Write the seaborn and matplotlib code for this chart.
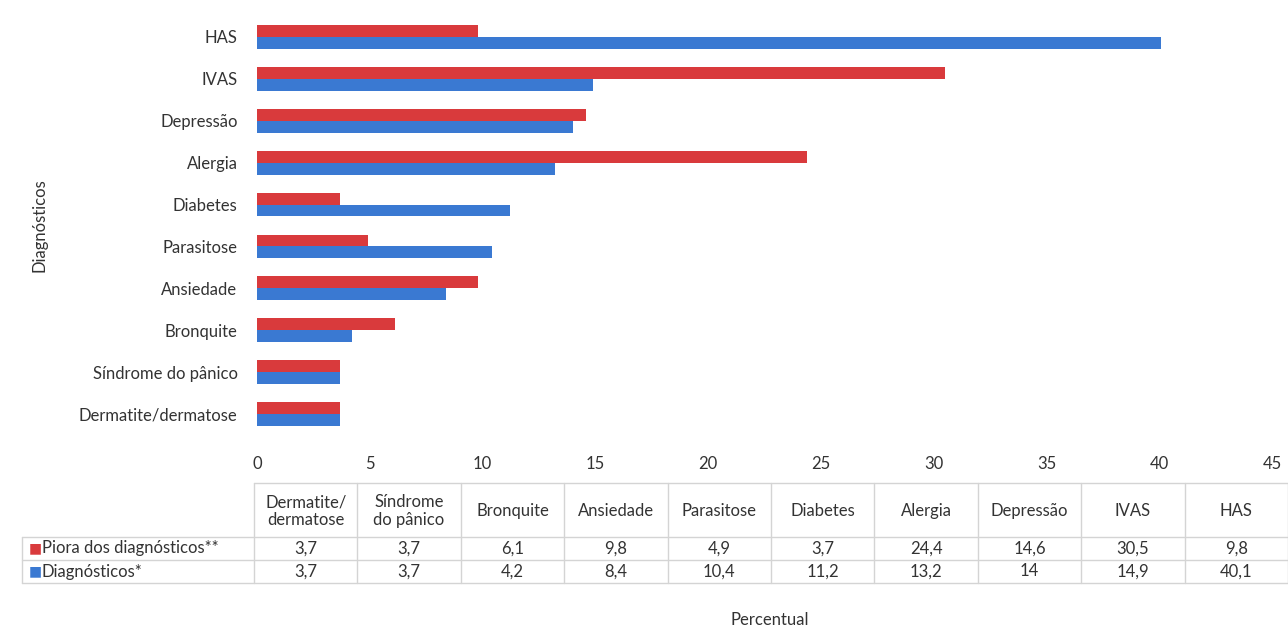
import matplotlib
matplotlib.use("Agg")
import matplotlib.pyplot as plt
import seaborn as sns
import pandas as pd

# data, top-to-bottom in chart order
categorias = ["HAS", "IVAS", "Depressão", "Alergia", "Diabetes", "Parasitose",
              "Ansiedade", "Bronquite", "Síndrome do pânico", "Dermatite/dermatose"]
piora = [9.8, 30.5, 14.6, 24.4, 3.7, 4.9, 9.8, 6.1, 3.7, 3.7]
diagnosticos = [40.1, 14.9, 14.0, 13.2, 11.2, 10.4, 8.4, 4.2, 3.7, 3.7]
serie_piora = "Piora dos diagnósticos**"
serie_diag = "Diagnósticos*"

# data table columns (left to right) and header text
tabela_cols = ["Dermatite/\ndermatose", "Síndrome\ndo pânico", "Bronquite", "Ansiedade",
               "Parasitose", "Diabetes", "Alergia", "Depressão", "IVAS", "HAS"]
x_ticks = [0, 5, 10, 15, 20, 25, 30, 35, 40, 45]

RED = "#d93a3c"
BLUE = "#3a79d2"
TXT = "#333333"
GRID = "#d4d4d4"
FS = 12

sns.set_theme(style="white")
plt.rcParams["font.family"] = ["Lato", "DejaVu Sans"]

df = pd.DataFrame({
    "Diagnóstico": categorias * 2,
    "Percentual": piora + diagnosticos,
    "Série": [serie_piora] * len(categorias) + [serie_diag] * len(categorias),
})

W, H = 1288, 633
fig = plt.figure(figsize=(W / 100, H / 100), dpi=100)
ax = fig.add_axes([257 / W, 1 - 435 / H, (1272 - 257) / W, (435 - 16) / H])

sns.barplot(data=df, y="Diagnóstico", x="Percentual", hue="Série",
            order=categorias, hue_order=[serie_piora, serie_diag],
            palette=[RED, BLUE], width=0.57, gap=0, orient="h",
            saturation=1, linewidth=0, ax=ax, legend=False)

ax.set_xlim(0, 45)
ax.set_xticks(x_ticks)
ax.set_xticklabels([str(t) for t in x_ticks])
ax.tick_params(axis="x", length=0, pad=15, labelsize=FS, colors=TXT)
ax.tick_params(axis="y", length=0, pad=14, labelsize=FS, colors=TXT)
for s in ax.spines.values():
    s.set_visible(False)
ax.set_xlabel("")
ax.set_ylabel("Diagnósticos", fontsize=FS, color=TXT)
ax.yaxis.set_label_coords(-0.206, 0.5)

# data table below the chart, drawn in pixel space
tab = fig.add_axes([0, 0, 1, 1])
tab.set_xlim(0, W)
tab.set_ylim(H, 0)
tab.axis("off")

col_left = 254
col_w = (1288 - col_left) / len(tabela_cols)
row_top, row_h1, row_h = 483, 537, 23
y_r1 = row_h1 + row_h
y_r2 = y_r1 + row_h
label_left = 22

# horizontal lines
tab.plot([col_left, W], [row_top, row_top], color=GRID, lw=1)
for y in (row_h1, y_r1, y_r2):
    tab.plot([label_left, W], [y, y], color=GRID, lw=1)
# vertical lines
tab.plot([label_left, label_left], [row_h1, y_r2], color=GRID, lw=1)
for i in range(len(tabela_cols) + 1):
    x = col_left + i * col_w
    tab.plot([x, x], [row_top, y_r2], color=GRID, lw=1)

for i, nome in enumerate(tabela_cols):
    cx = col_left + (i + 0.5) * col_w
    tab.text(cx, (row_top + row_h1) / 2 + 1, nome, ha="center", va="center",
             fontsize=FS, color=TXT, linespacing=1.15)

def fmt(v):
    s = f"{v:.1f}".replace(".", ",")
    return s[:-2] if s.endswith(",0") else s

# table values are in the reverse of the bar order
for r, (vals, nome, cor) in enumerate([(piora, serie_piora, RED),
                                       (diagnosticos, serie_diag, BLUE)]):
    cy = row_h1 + (r + 0.5) * row_h
    for i, v in enumerate(vals[::-1]):
        cx = col_left + (i + 0.5) * col_w
        tab.text(cx, cy, fmt(v), ha="center", va="center", fontsize=FS, color=TXT)
    tab.text(label_left + 7, cy, "■", ha="left", va="center", fontsize=10, color=cor)
    tab.text(label_left + 20, cy, nome, ha="left", va="center", fontsize=FS, color=TXT)

fig.text(770 / W, 1 - 620 / H, "Percentual", ha="center", va="center",
         fontsize=FS, color=TXT)

fig.savefig("out.png", dpi=100)
